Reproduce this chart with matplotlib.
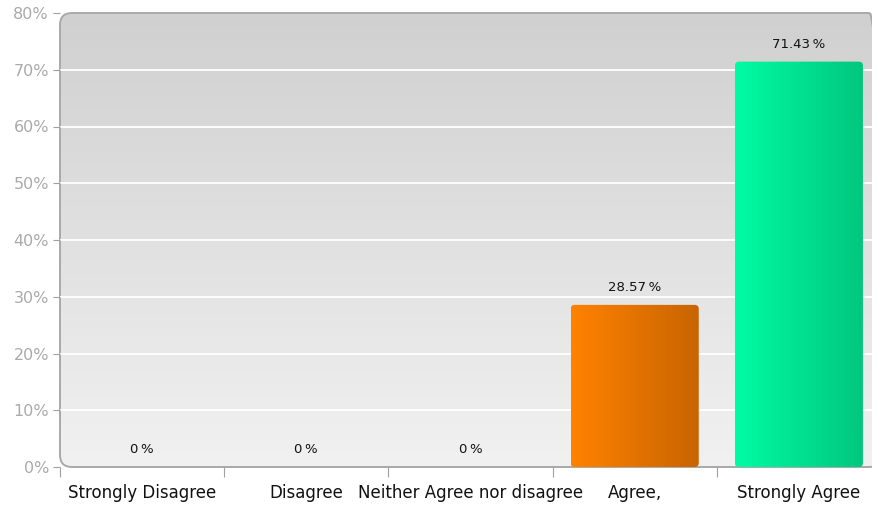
import numpy as np
import matplotlib
matplotlib.use("Agg")
import matplotlib.pyplot as plt
from matplotlib.patches import FancyBboxPatch
from matplotlib.colors import LinearSegmentedColormap

categories = ["Strongly Disagree", "Disagree", "Neither Agree nor disagree", "Agree,", "Strongly Agree"]
values = [0, 0, 0, 28.57, 71.43]
value_labels = ["0\u2009%", "0\u2009%", "0\u2009%", "28.57\u2009%", "71.43\u2009%"]
y_ticks = [0, 10, 20, 30, 40, 50, 60, 70, 80]
bar_colors = [("#ff8a00", "#c86400"), ("#ff8a00", "#c86400"), ("#ff8a00", "#c86400"),
              ("#ff8200", "#c86400"), ("#00fca4", "#00c67e")]

W, H = 872, 508
fig = plt.figure(figsize=(W / 100, H / 100), dpi=100)
fig.patch.set_facecolor("white")
left_px, right_px, top_px, bot_px = 60, 881, 13, 467
ax = fig.add_axes([left_px / W, (H - bot_px) / H, (right_px - left_px) / W, (bot_px - top_px) / H])
n = len(categories)
x = np.arange(n)
ax.set_facecolor("none")
for s in ax.spines.values():
    s.set_visible(False)

# background with rounded corners and vertical gradient
aw, ah = right_px - left_px, bot_px - top_px
bg = FancyBboxPatch((0, 0), 1, 1, boxstyle="round,pad=0,rounding_size=0.0146",
                    mutation_aspect=aw / ah, transform=ax.transAxes,
                    facecolor="none", edgecolor="#a9a9a9", linewidth=1.4, zorder=0.5,
                    clip_on=False)
ax.add_patch(bg)
grad = np.linspace(0, 1, 256).reshape(-1, 1)
bg_cmap = LinearSegmentedColormap.from_list("bg", ["#f1f1f1", "#d0d0d0"])
im = ax.imshow(grad, cmap=bg_cmap, aspect="auto", extent=(0, 1, 0, 1),
               transform=ax.transAxes, origin="lower", zorder=0.1)
im.set_clip_path(bg)

# gridlines
for yv in y_ticks[1:-1]:
    ax.axhline(yv, color="white", linewidth=1.3, zorder=0.6)

# bars
bars = ax.bar(x, values, width=0.78, color="none", edgecolor="none", zorder=2)
hgrad = np.linspace(0, 1, 256).reshape(1, -1)
for b, (c1, c2), v in zip(bars, bar_colors, values):
    if v <= 0:
        continue
    bx, bw, bh = b.get_x(), b.get_width(), b.get_height()
    shape = FancyBboxPatch((bx, 0), bw, bh, boxstyle="round,pad=0,rounding_size=0.025",
                           mutation_aspect=(80 / ah) / (n / aw), facecolor="none",
                           edgecolor="none", zorder=2)
    ax.add_patch(shape)
    cm = LinearSegmentedColormap.from_list("b", [c1, c2])
    bi = ax.imshow(hgrad, cmap=cm, aspect="auto", extent=(bx, bx + bw, 0, bh),
                   origin="lower", zorder=2)
    bi.set_clip_path(shape)

ax.set_xlim(-0.5, n - 0.5)
ax.set_ylim(0, 80)

# value labels
for xi, v, lab in zip(x, values, value_labels):
    ax.annotate(lab, (xi, v), xytext=(0, 12.5), textcoords="offset points",
                ha="center", va="center", fontsize=9.5, color="#111111", zorder=5)

# y axis
ax.set_yticks(y_ticks)
ax.set_yticklabels([f"{t}%" for t in y_ticks], color="#aaaaaa", fontsize=11.5)
ax.tick_params(axis="y", length=5, color="#a0a0a0", pad=3)

# x axis
ax.set_xticks(np.arange(-0.5, n, 1.0))
ax.set_xticklabels([])
ax.tick_params(axis="x", which="major", length=7, color="#a0a0a0", direction="out")
ax.set_xticks(x, minor=True)
ax.set_xticklabels(categories, minor=True, fontsize=12, color="#111111")
ax.tick_params(axis="x", which="minor", length=0, pad=12)

fig.savefig("out.png", dpi=100)
